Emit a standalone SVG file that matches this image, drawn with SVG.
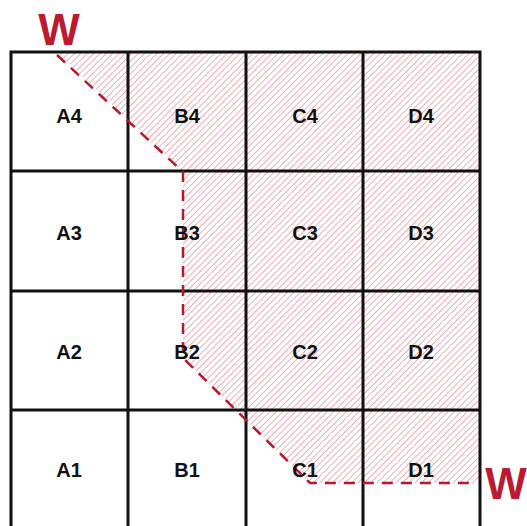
<svg xmlns="http://www.w3.org/2000/svg" width="527" height="526" viewBox="0 0 527 526">
<defs>
<pattern id="hatch" patternUnits="userSpaceOnUse" width="4.5" height="4.5" patternTransform="rotate(45)">
<line x1="0" y1="0" x2="0" y2="4.5" stroke="#e67a85" stroke-width="1.2"/>
</pattern>
</defs>
<style>
.grid{stroke:#111;stroke-width:3;fill:none}
.lbl{font-family:"Liberation Sans",Arial,sans-serif;font-weight:bold;font-size:20px;fill:#111;text-anchor:middle;dominant-baseline:central}
.w{font-family:"Liberation Sans",Arial,sans-serif;font-weight:bold;font-size:44px;fill:#bb1a30;text-anchor:middle}
.dash{stroke:#b8182e;stroke-width:2.5;fill:none;stroke-dasharray:11 8}
</style>
<rect width="527" height="526" fill="#fff"/>
<polygon points="57,52 480,52 480,483 310,483 183,358 183,172" fill="url(#hatch)"/>
<g id="grid">
<path class="grid" d="M11,526 V52 H480 V526 M128,52 V526 M246,52 V526 M363,52 V526 M11,171 H480 M11,291 H480 M11,410 H480"/>
</g>
<g id="connectors">
<path class="dash" d="M57,55 L183,172 V358 L310,483 H474"/>
</g>
<g id="labels">
<text class="lbl" x="69" y="116">A4</text>
<text class="lbl" x="187" y="116">B4</text>
<text class="lbl" x="305" y="116">C4</text>
<text class="lbl" x="421" y="116">D4</text>
<text class="lbl" x="69" y="233">A3</text>
<text class="lbl" x="187" y="233">B3</text>
<text class="lbl" x="305" y="233">C3</text>
<text class="lbl" x="421" y="233">D3</text>
<text class="lbl" x="69" y="352">A2</text>
<text class="lbl" x="187" y="352">B2</text>
<text class="lbl" x="305" y="352">C2</text>
<text class="lbl" x="421" y="352">D2</text>
<text class="lbl" x="69" y="470">A1</text>
<text class="lbl" x="187" y="470">B1</text>
<text class="lbl" x="305" y="470">C1</text>
<text class="lbl" x="421" y="470">D1</text>
</g>
<text class="w" x="59" y="45">W</text>
<text class="w" x="506" y="499">W</text>
</svg>
